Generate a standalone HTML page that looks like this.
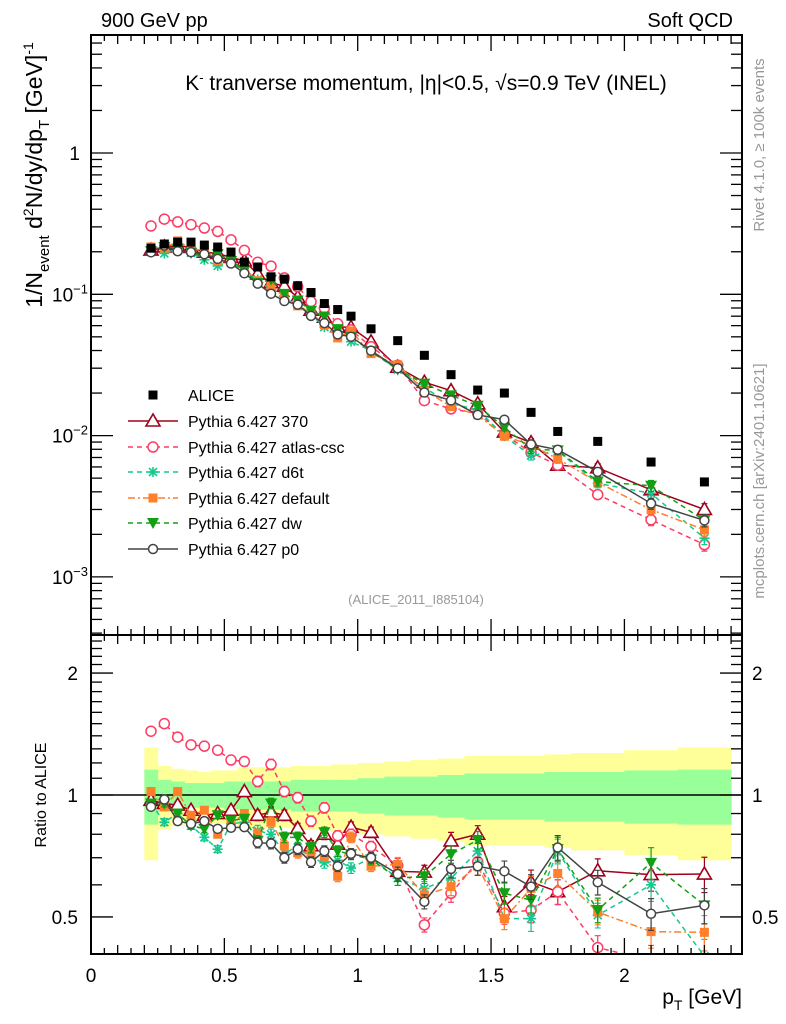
<!DOCTYPE html>
<html><head><meta charset="utf-8"><style>
html,body{margin:0;padding:0;background:#fff;}
svg{display:block;font-family:"Liberation Sans",sans-serif;}
</style></head><body>
<svg id="c" width="786" height="1024" viewBox="0 0 786 1024" xmlns="http://www.w3.org/2000/svg"></svg>
<script>
const xCenters=[0.225,0.275,0.325,0.375,0.425,0.475,0.525,0.575,0.625,0.675,0.725,0.775,0.825,0.875,0.925,0.975,1.05,1.15,1.25,1.35,1.45,1.55,1.65,1.75,1.9,2.1,2.3];
const xLow=[0.2,0.25,0.3,0.35,0.4,0.45,0.5,0.55,0.6,0.65,0.7,0.75,0.8,0.85,0.9,0.95,1.0,1.1,1.2,1.3,1.4,1.5,1.6,1.7,1.8,2.0,2.2];
const xHigh=[0.25,0.3,0.35,0.4,0.45,0.5,0.55,0.6,0.65,0.7,0.75,0.8,0.85,0.9,0.95,1.0,1.1,1.2,1.3,1.4,1.5,1.6,1.7,1.8,2.0,2.2,2.4];
const alice=[0.212,0.227,0.234,0.234,0.223,0.216,0.199,0.169,0.156,0.133,0.128,0.115,0.103,0.086,0.078,0.070,0.057,0.047,0.037,0.027,0.021,0.020,0.0146,0.0107,0.0091,0.0065,0.0047];
const errGreen=[.155,.09,.08,.07,.07,.07,.08,.08,.08,.08,.08,.09,.09,.09,.09,.09,.10,.11,.11,.12,.13,.13,.13,.14,.14,.15,.155];
const errYellow=[.31,.18,.16,.15,.14,.15,.15,.17,.17,.17,.17,.18,.18,.18,.19,.19,.20,.21,.22,.23,.25,.25,.25,.26,.27,.29,.31];
const r370=[0.97,0.953,0.944,0.917,0.891,0.90,0.917,1.02,0.891,0.908,0.891,0.827,0.749,0.80,0.756,0.833,0.809,0.648,0.645,0.77,0.80,0.53,0.61,0.577,0.65,0.636,0.638];
const rAtlas=[1.437,1.50,1.39,1.33,1.32,1.29,1.22,1.21,1.08,1.19,1.02,0.985,0.862,0.93,0.793,0.80,0.746,0.67,0.478,0.572,0.684,0.51,0.52,0.577,0.42,0.39,0.36];
const rD6t=[0.953,0.857,0.90,0.84,0.786,0.735,0.849,0.857,0.817,0.80,0.72,0.742,0.70,0.68,0.69,0.66,0.70,0.623,0.588,0.623,0.727,0.495,0.495,0.727,0.505,0.60,0.40];
const rDefault=[1.02,0.935,1.02,0.891,0.917,0.80,0.849,0.90,0.80,0.857,0.749,0.72,0.72,0.707,0.63,0.786,0.667,0.674,0.566,0.594,0.667,0.495,0.588,0.64,0.514,0.46,0.458];
const rDw=[0.953,0.953,0.90,0.84,0.825,0.891,0.865,0.874,0.771,0.953,0.786,0.786,0.742,0.809,0.727,0.714,0.693,0.623,0.63,0.714,0.774,0.572,0.55,0.735,0.52,0.68,0.534];
const rP0=[0.935,0.975,0.862,0.849,0.862,0.825,0.83,0.833,0.763,0.759,0.70,0.735,0.683,0.727,0.667,0.716,0.70,0.638,0.545,0.657,0.667,0.648,0.594,0.742,0.609,0.509,0.534];
const modelErr=[.02,.02,.02,.02,.02,.02,.02,.02,.03,.03,.03,.03,.03,.03,.03,.03,.03,.04,.04,.05,.05,.06,.07,.07,.07,.09,.10];
const xTicks=[0,0.5,1,1.5,2];
const xTickLabels=["0","0.5","1","1.5","2"];

const NS="http://www.w3.org/2000/svg";
const svg=document.getElementById('c');
function el(tag,attrs,parent){const e=document.createElementNS(NS,tag);for(const k in attrs)e.setAttribute(k,attrs[k]);(parent||svg).appendChild(e);return e;}
const L=91,R=742,T=35,MB=635,RB=954;
const xs=v=>L+v*266.7;
const ys=v=>153-141.3*Math.log10(v);
const rs=v=>795-405*Math.log10(v);

const gBand=el('g',{});


const rClipLo=0.405,rClipHi=2.48;
function clampR(v){return Math.min(rClipHi,Math.max(rClipLo,v));}
for(let i=0;i<xCenters.length;i++){
  const yt=rs(clampR(1+errYellow[i])),yb=rs(clampR(1-errYellow[i]));
  const b=el('rect',{x:xs(xLow[i]),y:yt,width:xs(xHigh[i])-xs(xLow[i])+0.5,height:yb-yt,fill:'#ffff99'},gBand);
  
  
}
for(let i=0;i<xCenters.length;i++){
  const yt=rs(1+errGreen[i]),yb=rs(1-errGreen[i]);
  const b=el('rect',{x:xs(xLow[i]),y:yt,width:xs(xHigh[i])-xs(xLow[i])+0.5,height:yb-yt,fill:'#99ff99'},gBand);
  
  
}
const one=el('line',{x1:L,x2:R,y1:rs(1),y2:rs(1),stroke:'#000','stroke-width':1.5});



const defs=el('defs',{});
const cp1=el('clipPath',{id:'cm'},defs);el('rect',{x:L,y:T,width:R-L,height:MB-T},cp1);
const cp2=el('clipPath',{id:'cr'},defs);el('rect',{x:L,y:MB,width:R-L,height:RB-MB},cp2);

function marker(g,type,x,y,color){
  let m;
  const s=5.5;
  if(type==='tri'){m=el('polygon',{points:`${x},${y-7} ${x-7},${y+5} ${x+7},${y+5}`,fill:'#fff',stroke:color,'stroke-width':1.6},g);}
  else if(type==='circ'){m=el('circle',{cx:x,cy:y,r:4.5,fill:'#fff',stroke:color,'stroke-width':1.5},g);}
  else if(type==='circs'){m=el('circle',{cx:x,cy:y,r:5,fill:'#fff',stroke:color,'stroke-width':1.5},g);}
  else if(type==='sq'){m=el('rect',{x:x-s+1,y:y-s+1,width:2*s-2,height:2*s-2,fill:color},g);}
  else if(type==='dtri'){m=el('polygon',{points:`${x-6},${y-5} ${x+6},${y-5} ${x},${y+6}`,fill:color},g);}
  else if(type==='star'){m=el('path',{d:`M${x-5},${y}H${x+5}M${x},${y-5}V${y+5}M${x-4},${y-4}L${x+4},${y+4}M${x-4},${y+4}L${x+4},${y-4}`,stroke:color,'stroke-width':1.6,fill:'none'},g);}
  
  
}

const models=[
 {name:'Pythia 6.427 370',key:'370',r:r370,color:'#a0001c',dash:'',mk:'tri'},
 {name:'Pythia 6.427 atlas-csc',key:'atlas-csc',r:rAtlas,color:'#ff3a63',dash:'5,4',mk:'circs'},
 {name:'Pythia 6.427 d6t',key:'d6t',r:rD6t,color:'#14c98f',dash:'5,4',mk:'star'},
 {name:'Pythia 6.427 default',key:'default',r:rDefault,color:'#ff7f2a',dash:'7,3,2,3',mk:'sq'},
 {name:'Pythia 6.427 dw',key:'dw',r:rDw,color:'#12a012',dash:'5,4',mk:'dtri'},
 {name:'Pythia 6.427 p0',key:'p0',r:rP0,color:'#444444',dash:'',mk:'circ'}
];

function drawSeries(m,ysFn,vals,clip,pfx){
  const g=el('g',{'clip-path':`url(#${clip})`});
  
  
  const pts=vals.map((v,i)=>xs(xCenters[i])+','+ysFn(v)).join(' ');
  const pl=el('polyline',{points:pts,fill:'none',stroke:m.color,'stroke-width':1.5,'stroke-dasharray':m.dash},g);
  
  
  vals.forEach((v,i)=>{
    const x=xs(xCenters[i]);
    const y1=ysFn(v*(1+modelErr[i])),y2=ysFn(v*(1-modelErr[i]));
    if(y2-y1>4){
      const eb=el('path',{d:`M${x},${y1}V${y2}M${x-3},${y1}H${x+3}M${x-3},${y2}H${x+3}`,stroke:m.color,'stroke-width':1.2,fill:'none'},g);
      
      
    }
    marker(g,m.mk,x,ysFn(v),m.color);
  });
}

const ga=el('g',{'clip-path':'url(#cm)'});


models.forEach(m=>drawSeries(m,ys,m.r.map((r,i)=>r*alice[i]),'cm','main'));
alice.forEach((v,i)=>marker(ga,'sq',xs(xCenters[i]),ys(v),'#000'));
svg.appendChild(ga);
models.forEach(m=>drawSeries(m,rs,m.r,'cr','ratio'));

const f1=el('rect',{x:L,y:T,width:R-L,height:MB-T,fill:'none',stroke:'#000','stroke-width':2});

const f2=el('rect',{x:L,y:MB,width:R-L,height:RB-MB,fill:'none',stroke:'#000','stroke-width':2});


const tg=el('g',{stroke:'#000','stroke-width':1.3});

for(let k=0;k<=48;k++){
  const v=k*0.05,x=xs(v);if(x>R)break;
  const len=(k%10===0)?16:(k%2===0?9:6);
  [[T,1],[MB,-1],[MB,1],[RB,-1]].forEach(([y0,d])=>el('line',{x1:x,x2:x,y1:y0,y2:y0+d*len},tg));
}
for(let e=-4;e<=0;e++){for(let k=1;k<=9;k++){
  const v=k*Math.pow(10,e),y=ys(v);if(y<T||y>MB)continue;
  const len=k===1?22:11;
  el('line',{x1:L,x2:L+len,y1:y,y2:y},tg);el('line',{x1:R,x2:R-len,y1:y,y2:y},tg);
}}
for(let k=5;k<=24;k++){
  const v=k/10,y=rs(v);if(y<MB||y>RB)continue;
  const len=(k===5||k===10||k===20)?22:11;
  el('line',{x1:L,x2:L+len,y1:y,y2:y},tg);el('line',{x1:R,x2:R-len,y1:y,y2:y},tg);
}

function txt(s,attrs,name){const t=el('text',attrs);t.textContent=s;return t;}
xTicks.forEach((v,i)=>txt(xTickLabels[i],{x:xs(v),y:982,'font-size':19,'text-anchor':'middle'},'x-tick-label'));
[[1,'1']].forEach(([v,s])=>txt(s,{x:80,y:ys(v)+7,'font-size':19,'text-anchor':'end'},'y-tick-label'));
[-1,-2,-3].forEach(e=>{
  const t=el('text',{x:52,y:ys(Math.pow(10,e))+7,'font-size':19});
  
  t.innerHTML=`10<tspan dy="-8" font-size="13">${e===-1?'−1':e===-2?'−2':'−3'}</tspan>`;
});
[[2,'2'],[1,'1'],[0.5,'0.5']].forEach(([v,s])=>{
  txt(s,{x:78,y:rs(v)+7,'font-size':19,'text-anchor':'end'},'ratio-y-tick-label');
  txt(s,{x:752,y:rs(v)+7,'font-size':19},'ratio-y-tick-label-right');
});
txt('900 GeV pp',{x:101,y:27,'font-size':20},'energy-label');
txt('Soft QCD',{x:733,y:27,'font-size':20,'text-anchor':'end'},'process-label');
const tt=el('text',{x:426,y:90,'font-size':21,'text-anchor':'middle'});

tt.innerHTML='K<tspan dy="-8" font-size="13">-</tspan><tspan dy="8"> tranverse momentum, |η|&lt;0.5, √s=0.9 TeV (INEL)</tspan>';
txt('(ALICE_2011_I885104)',{x:416,y:604,'font-size':13,'text-anchor':'middle',fill:'#999'},'analysis-id');
const xt=el('text',{x:742,y:1004,'font-size':21,'text-anchor':'end'});

xt.innerHTML='p<tspan dy="6" font-size="14">T</tspan><tspan dy="-6"> [GeV]</tspan>';
const yt=el('text',{transform:'translate(42,175) rotate(-90)','font-size':23,'text-anchor':'middle'});

yt.innerHTML='1/N<tspan dy="7" font-size="15">event</tspan><tspan dy="-7"> d</tspan><tspan dy="-9" font-size="14">2</tspan><tspan dy="9">N/dy/dp</tspan><tspan dy="7" font-size="15">T</tspan><tspan dy="-7"> [GeV]</tspan><tspan dy="-9" font-size="14">-1</tspan>';
txt('Ratio to ALICE',{transform:'translate(46,795) rotate(-90)','font-size':16,'text-anchor':'middle'},'ratio-axis-title');
txt('Rivet 4.1.0, ≥ 100k events',{transform:'translate(764,145) rotate(-90)','font-size':15,'text-anchor':'middle',fill:'#999'},'rivet-version-label');
txt('mcplots.cern.ch [arXiv:2401.10621]',{transform:'translate(764,481) rotate(-90)','font-size':15,'text-anchor':'middle',fill:'#999'},'mcplots-label');

const lg=el('g',{});

const ly=[395,421,447,472,498,523,549];
const le0=el('g',{},lg);
marker(le0,'sq',153,ly[0],'#000');
const lt0=el('text',{x:188,y:ly[0]+6,'font-size':16},le0);lt0.textContent='ALICE';
models.forEach((m,i)=>{
  const g=el('g',{},lg);
  
  el('line',{x1:128,x2:178,y1:ly[i+1],y2:ly[i+1],stroke:m.color,'stroke-width':1.5,'stroke-dasharray':m.dash},g);
  marker(g,m.mk,153,ly[i+1],m.color);
  const t=el('text',{x:188,y:ly[i+1]+6,'font-size':16},g);t.textContent=m.name;
});
</script>
</body></html>
